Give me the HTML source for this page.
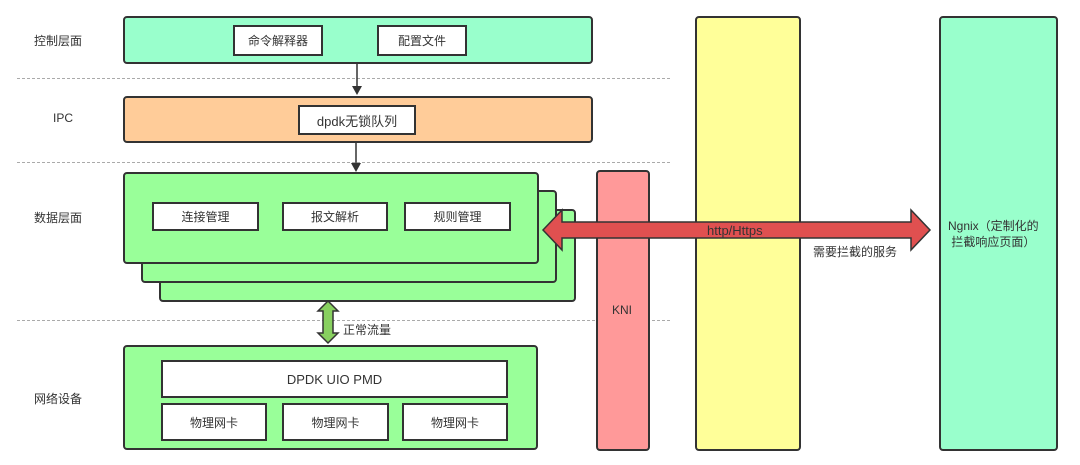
<!DOCTYPE html>
<html><head><meta charset="utf-8"><style>
body{margin:0;width:1080px;height:465px;background:#fff;position:relative;overflow:hidden;font-family:"Liberation Sans","Noto Sans CJK SC",sans-serif;font-size:12px;color:#333}
.b{position:absolute;border:2px solid #333;border-radius:4px;box-sizing:border-box}
.w{position:absolute;background:#fff;border:2px solid #333;box-sizing:border-box;display:flex;align-items:center;justify-content:center}
.t{position:absolute;white-space:nowrap}
.d{position:absolute;left:17px;width:653px;border-top:1px dashed #aaa;height:0}
</style></head><body>
<div class="d" style="top:78px"></div>
<div class="d" style="top:162px"></div>
<div class="d" style="top:320px"></div>
<div class="t" style="left:34px;top:32px">控制层面</div>
<div class="t" style="left:53px;top:111px">IPC</div>
<div class="t" style="left:34px;top:209px">数据层面</div>
<div class="t" style="left:34px;top:390px">网络设备</div>

<div class="b" style="left:123px;top:16px;width:470px;height:48px;background:#99ffcc"></div>
<div class="w" style="left:233px;top:25px;width:90px;height:31px">命令解释器</div>
<div class="w" style="left:377px;top:25px;width:90px;height:31px">配置文件</div>

<div class="b" style="left:123px;top:96px;width:470px;height:47px;background:#ffcc99"></div>
<div class="w" style="left:298px;top:105px;width:118px;height:30px;font-size:13px">dpdk无锁队列</div>

<div class="b" style="left:159px;top:209px;width:417px;height:93px;background:#99ff99"></div>
<div class="b" style="left:141px;top:190px;width:416px;height:93px;background:#99ff99"></div>
<div class="b" style="left:123px;top:172px;width:416px;height:92px;background:#99ff99"></div>
<div class="w" style="left:152px;top:202px;width:107px;height:29px">连接管理</div>
<div class="w" style="left:282px;top:202px;width:106px;height:29px">报文解析</div>
<div class="w" style="left:404px;top:202px;width:107px;height:29px">规则管理</div>

<div class="b" style="left:123px;top:345px;width:415px;height:105px;background:#99ff99"></div>
<div class="w" style="left:161px;top:360px;width:347px;height:38px;font-size:13px">DPDK UIO PMD</div>
<div class="w" style="left:161px;top:403px;width:106px;height:38px">物理网卡</div>
<div class="w" style="left:282px;top:403px;width:107px;height:38px">物理网卡</div>
<div class="w" style="left:402px;top:403px;width:106px;height:38px">物理网卡</div>

<div class="b" style="left:596px;top:170px;width:54px;height:281px;background:#ff9999"></div>
<div class="t" style="left:612px;top:303px">KNI</div>
<div class="b" style="left:695px;top:16px;width:106px;height:435px;background:#ffff99"></div>
<div class="b" style="left:939px;top:16px;width:119px;height:435px;background:#99ffcc"></div>
<div class="t" style="left:948px;top:218px;line-height:16px;text-align:center">Ngnix（定制化的<br>拦截响应页面）</div>

<svg style="position:absolute;left:0;top:0" width="1080" height="465">
<line x1="357" y1="64" x2="357" y2="88" stroke="#333" stroke-width="1.5"/>
<polygon points="352,86 362,86 357,95" fill="#333"/>
<line x1="356" y1="143" x2="356" y2="164" stroke="#333" stroke-width="1.5"/>
<polygon points="351,163 361,163 356,172" fill="#333"/>
<polygon points="543,230 562,210 562,222 911,222 911,210 930,230 911,250 911,238 562,238 562,250" fill="#e05050" stroke="#333" stroke-width="1.5"/>
<polygon points="328,301 338,311 333,311 333,333 338,333 328,343 318,333 323,333 323,311 318,311" fill="#88d060" stroke="#333" stroke-width="1.5"/>
</svg>
<div class="t" style="left:707px;top:223px;font-size:13px">http/Https</div>
<div class="t" style="left:813px;top:243px">需要拦截的服务</div>
<div class="t" style="left:343px;top:321px">正常流量</div>
</body></html>
